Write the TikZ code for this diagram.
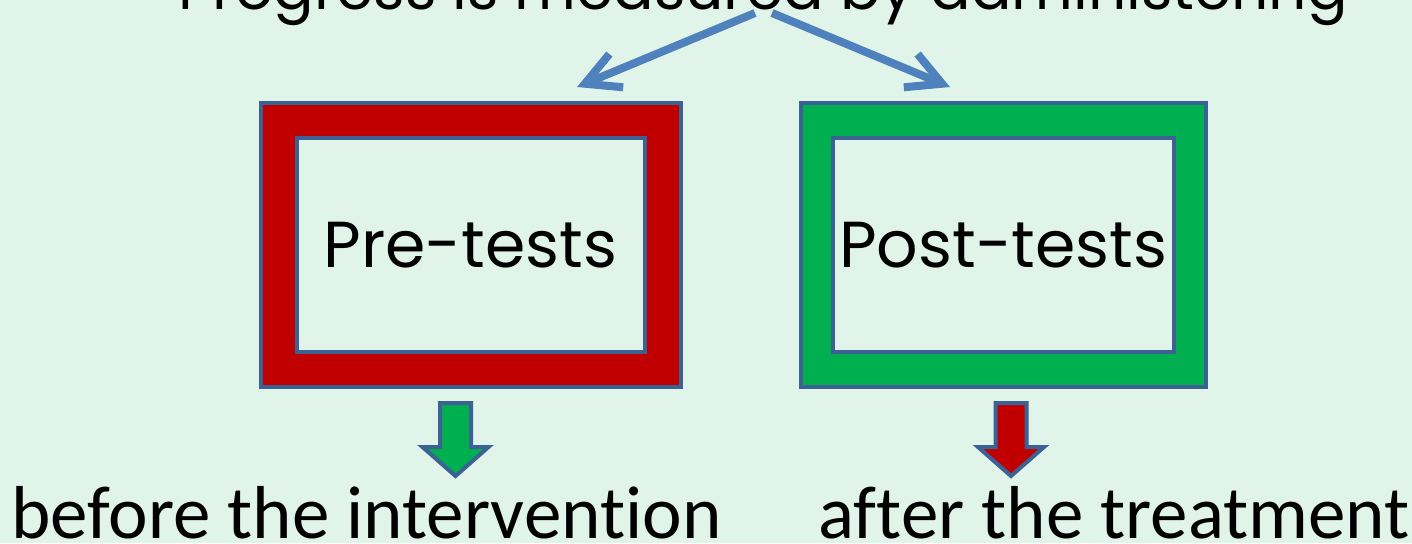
\documentclass[tikz,border=0pt]{standalone}
\usepackage{fontspec}
\setmainfont{Carlito}[RawFeature={-liga;-clig;-dlig}]
\newfontfamily\gothicfont{Poppins}
\usetikzlibrary{arrows.meta,positioning}
\definecolor{mint}{HTML}{E0F4EA}
\definecolor{framered}{HTML}{C00000}
\definecolor{framegreen}{HTML}{00B050}
\definecolor{slate}{HTML}{3C6294}
\definecolor{skyblue}{HTML}{4F81BD}

\begin{document}
\begin{tikzpicture}[x=0.5pt, y=-0.5pt, >={Straight Barb[length=17pt, width=18pt]},
  outerframe/.style={draw=slate, line width=2pt, minimum height=142pt},
  innerframe/.style={draw=slate, line width=2pt, fill=mint, minimum height=107pt,
    font=\gothicfont\fontsize{32.5}{40}\selectfont},
  caption/.style={anchor=base west, inner sep=0pt, font=\fontsize{37.5}{45}\selectfont},
  blockarrow/.style={draw=slate, line width=2pt, line join=miter},
  flow/.style={->, draw=skyblue, line width=4pt}]
  \useasboundingbox (0,0) rectangle (1412,543);
  \fill[mint] (0,0) rectangle (1412,543);
  \clip (0,0) rectangle (1412,543);

  % heading, cut off by the top edge
  \node[anchor=base, inner sep=0pt, font=\gothicfont\fontsize{30}{36}\selectfont]
    (heading) at (763,9) {Progress is measured by administering};

  % the two tests
  \node[outerframe, fill=framered, minimum width=210pt] (preOuter) at (470.5,245) {};
  \node[innerframe, minimum width=174pt] (preInner) at (preOuter.center) {Pre-tests};
  \node[outerframe, fill=framegreen, minimum width=202.3pt] (postOuter) at (1003.3,245) {};
  \node[innerframe, minimum width=166.8pt] (postInner) at (postOuter.center) {Post-tests};

  \coordinate (splitL) at (755,13);
  \coordinate (splitR) at (772,13);
  \coordinate (preTip) at (577,87);
  \coordinate (postTip) at (950,87);
  \draw[flow] (splitL) -- (preTip);
  \draw[flow] (splitR) -- (postTip);

  % block arrows under the frames
  \foreach \cx/\col in {455.5/framegreen, 1011/framered}
    \draw[blockarrow, fill=\col] (\cx-15.5,403) -- (\cx+15.5,403) -- (\cx+15.5,447)
      -- (\cx+33,447) -- (\cx,476) -- (\cx-33,447) -- (\cx-15.5,447) -- cycle;

  \node[caption] (preNote) at (11,538) {before the intervention};
  \node[caption] (postNote) at (818,538) {after the treatment};
\end{tikzpicture}
\end{document}
